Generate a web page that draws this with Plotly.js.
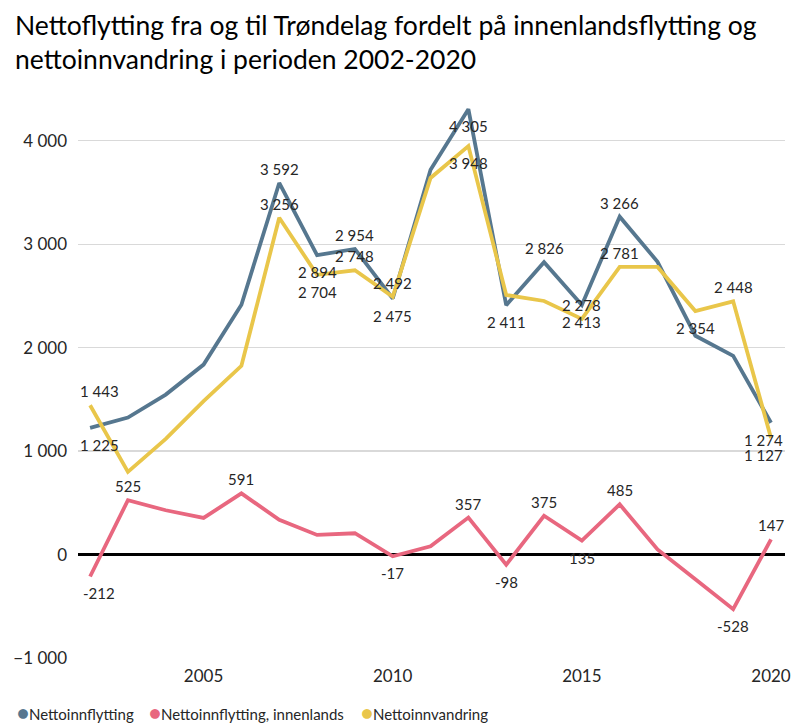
<!DOCTYPE html>
<html>
<head>
<meta charset="utf-8">
<script src="https://cdn.plot.ly/plotly-3.0.1.min.js"></script>
<style>html,body{margin:0;padding:0;background:#fff;}#chart{width:800px;height:727px;}</style>
</head>
<body>
<div id="chart"></div>
<script>
// Data
const years = [2002,2003,2004,2005,2006,2007,2008,2009,2010,2011,2012,2013,2014,2015,2016,2017,2018,2019,2020];
const nettoinnflytting = [1225,1324,1546,1836,2415,3592,2894,2954,2475,3720,4305,2411,2826,2413,3266,2830,2115,1920,1274];
const innenlands = [-212,525,428,354,591,336,190,206,-17,80,357,-98,375,135,485,50,-239,-528,147];
const innvandring = [1443,799,1118,1482,1824,3256,2704,2748,2492,3640,3948,2509,2451,2278,2781,2780,2354,2448,1127];
const seriesNames = ['Nettoinnflytting','Nettoinnflytting, innenlands','Nettoinnvandring'];
const xTickYears = [2005,2010,2015,2020];
const yTicks = [-1000,0,1000,2000,3000,4000];

// which points carry a value label (a = above, b = below)
const blueLabels = {2002:'b',2007:'a',2008:'b',2009:'a',2010:'b',2012:'b',2013:'b',2014:'a',2015:'b',2016:'a',2020:'b'};
const redLabels = {2002:'b',2003:'a',2006:'a',2010:'b',2012:'a',2013:'b',2014:'a',2015:'b',2016:'a',2019:'b',2020:'a'};
const yellowLabels = {2002:'a',2007:'a',2008:'b',2009:'a',2010:'a',2012:'b',2015:'a',2016:'a',2018:'b',2019:'a',2020:'b'};

const colors = ['#56778f','#e8677f','#e9c64a'];
const font = 'Lato, "Open Sans", sans-serif';

function fmt(v){
  const s = Math.abs(v).toString().replace(/\B(?=(\d{3})+(?!\d))/g,' ');
  return (v<0?'-':'')+s;
}

const traces = [];
const annotations = [];
const specs = [[nettoinnflytting, blueLabels],[innenlands, redLabels],[innvandring, yellowLabels]];
specs.forEach((s,k)=>{
  traces.push({
    x: years, y: s[0], type:'scatter', mode:'lines', name: seriesNames[k],
    line:{color:colors[k], width:3.8},
    showlegend:false, hoverinfo:'skip'
  });
  years.forEach((yr,i)=>{
    const p = s[1][yr];
    if(!p) return;
    let xs = 0;
    if(yr===2002) xs = 9;
    if(yr===2020 && k!==1) xs = -8;
    annotations.push({
      x: yr, y: s[0][i], xref:'x', yref:'y', text: fmt(s[0][i]),
      showarrow:false, xanchor:'center', yanchor:'middle',
      xshift: xs, yshift: p==='a' ? 14 : -17,
      font:{family:font, size:15, color:'#262626'}
    });
  });
});

// legend drawn as a row of coloured dots + names below the plot
const legendX = [15, 147, 359];
seriesNames.forEach((n,k)=>{
  annotations.push({
    x: (legendX[k]-78)/707, y: -(712-658)/569, xref:'paper', yref:'paper',
    xanchor:'left', yanchor:'middle', showarrow:false,
    text: '<span style="color:'+colors[k]+';font-size:20px">\u25CF</span>'+n,
    font:{family:font, size:15, color:'#262626'}
  });
});

const layout = {
  width:800, height:727,
  margin:{l:78, r:15, t:89, b:69},
  paper_bgcolor:'#fff', plot_bgcolor:'#fff',
  separators:', ',
  font:{family:font, color:'#262626'},
  showlegend:false,
  title:{text:'Nettoflytting fra og til Trøndelag fordelt på innenlandsflytting og<br>nettoinnvandring i perioden 2002-2020',
    x:15/800, xref:'container', xanchor:'left', y:0.952, yref:'container', yanchor:'top',
    font:{family:font, size:26.5, color:'#000'}},
  xaxis:{range:[2001.68,2020.37], tickvals:xTickYears, ticktext:xTickYears.map(String),
    showgrid:false, zeroline:false, showline:false, ticks:'', ticklabelstandoff:6,
    tickfont:{family:font, size:17, color:'#262626'}},
  yaxis:{range:[-1000,4500], tickvals:yTicks, tickformat:',d',
    showgrid:true, gridcolor:'#d9d9d9', gridwidth:1.2,
    zeroline:true, zerolinecolor:'#000', zerolinewidth:3.5,
    showline:false, ticks:'', ticklabelstandoff:10,
    tickfont:{family:font, size:17, color:'#262626'}},
  annotations: annotations
};

Plotly.newPlot('chart', traces, layout, {displayModeBar:false, staticPlot:true});
</script>
</body>
</html>
